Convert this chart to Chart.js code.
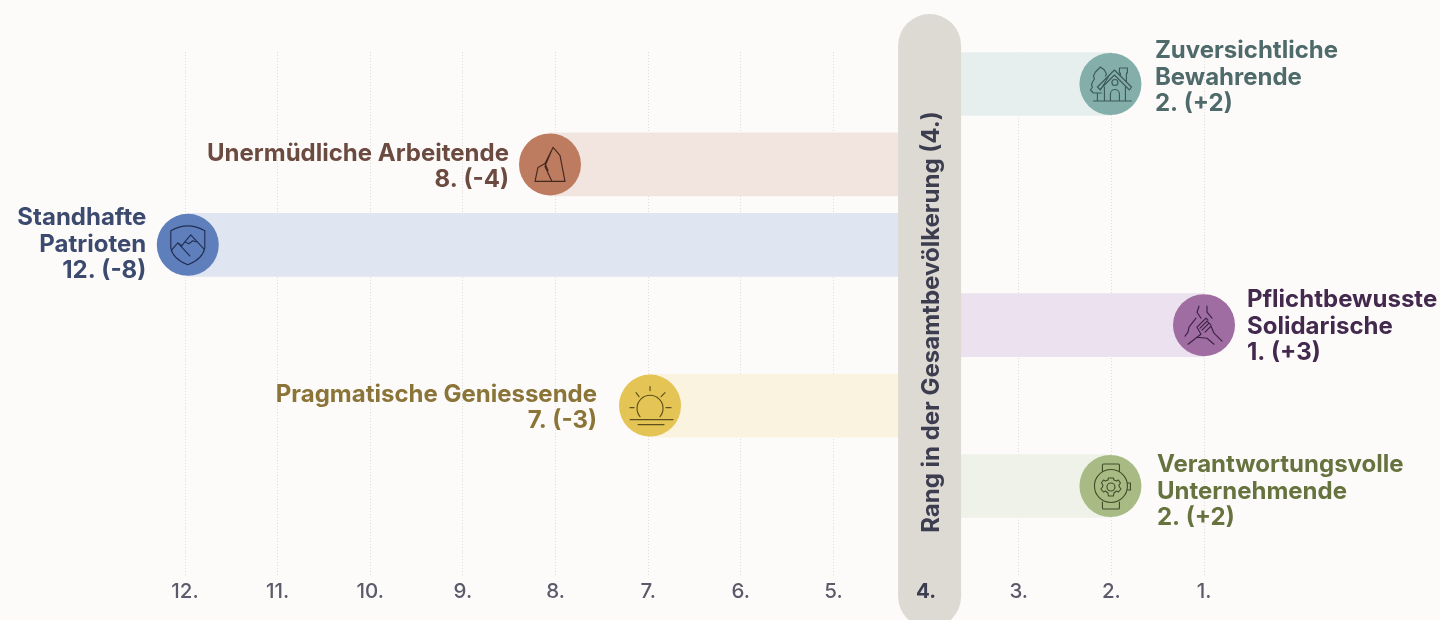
<!DOCTYPE html>
<html lang="de">
<head>
<meta charset="utf-8">
<title>Rang in der Gesamtbevölkerung</title>
<script src="https://cdn.jsdelivr.net/npm/chart.js@4"></script>
<style>
  html, body { margin: 0; padding: 0; background: #fdfbf9; overflow: hidden; }
  canvas { display: block; }
</style>
</head>
<body>
<canvas id="chart" width="1440" height="620"></canvas>
<script>
// data, rows top to bottom
const names = [
  ["Zuversichtliche", "Bewahrende"],
  ["Unermüdliche Arbeitende"],
  ["Standhafte", "Patrioten"],
  ["Pflichtbewusste", "Solidarische"],
  ["Pragmatische Geniessende"],
  ["Verantwortungsvolle", "Unternehmende"]
];
const rankLabels = ["2. (+2)", "8. (-4)", "12. (-8)", "1. (+3)", "7. (-3)", "2. (+2)"];
const rowIndex = [0, 1, 2, 3, 4, 5];
const ranks = [2.01, 8.06, 11.97, 1, 6.98, 2.01]; // where the circles sit on the axis
const baseRank = 4;
const tickRanks = [12, 11, 10, 9, 8, 7, 6, 5, 4, 3, 2, 1];
const bandTitle = "Rang in der Gesamtbevölkerung (4.)";

// styling
const barColors = ["#e6efee", "#f2e5e0", "#dfe5f1", "#ece1ee", "#f9f3df", "#eef2e9"];
const circleColors = ["#83aeaa", "#bd7b60", "#5f7fbc", "#a06da3", "#e3c455", "#a9bb85"];
const textColors = ["#4f6a6a", "#6b4a40", "#3b4a6e", "#43294e", "#8a7437", "#66733f"];
const iconColors = ["#3f5a5a", "#45291f", "#222f55", "#3c2244", "#5f4f1c", "#434f2a"];
const labelDx = [44.5, -41, -41.5, 43, -53, 46.5];
const labelFirstDy = [-33, -11, -27, -25, -11, -21];
const labelFont = '700 24px Inter, sans-serif';

// icons as svg paths around the circle centre
const icons = [
  // house and tree
  "M-17,17 H21 M-1,-9 L-10,6 M4,-9 L19,6 M4,-9 L-10,5 M4,-14 L-13,3 L-10,6 M4,-14 L21,3 L19,6 " +
  "M-6,3 V17 M15,3 V17 M0,17 V10 A4.3,4.3 0 0 1 9,10 V17 M7.5,-1.5 A3,3 0 1 0 1.5,-1.5 A3,3 0 1 0 7.5,-1.5 " +
  "M10,-8 V-11 H9 V-16 H17 V-11 H16 V-3 M-9,9 H-17 L-20,6 L-18,3 L-19,1 L-18,-2 L-16,-5 L-17,-8 L-15,-12 L-10,-17 L-6,-14 " +
  "L-4,-10 L-5,-8 M-13,9 V17",
  // rock
  "M-15,17 H15 L10,-9 L3,-17 L-5,-1 L-12,3 L-15,17 M3,-17 L-5,2 L2,17 M-5,-1 L-2,6",
  // shield with mountains
  "M-17,-14 Q0,-24 17,-14 V3 Q15,14 0,20 Q-15,14 -17,3 Z M-16,5 L-10,-2 L-6,1 L-3,-3 L3,-10 L16,4 " +
  "M-10,-2 L2,11 M-3,-3 L1,-1 L5,-4 L8,-3",
  // hands
  "M-5,-19 L-7,-13 L-3,-7 M3,-19 L3,-13 L8,-7 M-8,-7 L-15,2 L-16,7 L-19,11 M-16,19 L-7,12 " +
  "M-7,2 L2,-7 L4,-5 M-4,3 L3,-4 L5,-2 M-2,5 L5,-2 L7,0 M1,7 L7,1 M-7,2 L-3,9 L-7,12 L3,13 L10,19 M7,1 L10,8 L18,16",
  // sun
  "M-10,11 A13,13 0 1 1 10,11 M-20,14 H23 M-12,19 H14 M0,-19 V-15 M-14,-13 L-11,-9 M15,-13 L11,-9 M-20,2 H-16 M16,2 H21",
  // watch with gear
  "M-8,-14 V-21 Q-8,-22 -7,-22 H8 Q9,-22 9,-21 V-14 M-8,16 V22 Q-8,23 -7,23 H8 Q9,23 9,22 V16 " +
  "M17,0 A16.5,16.5 0 1 1 -16,0 A16.5,16.5 0 1 1 17,0 M17,-3 L20,-3 V4 H17 M4.5,1 A4,4 0 1 1 -3.5,1 A4,4 0 1 1 4.5,1 " +
  "M-2,-8 L3,-8 L3.5,-6 L6,-5 L8,-6 L10,-3 L8.5,-1 L9,1 L10.5,3 L8,6 L6,5 L3.5,7 L3,10 L-2,10 L-2.5,7 L-5,5 L-7,6 L-9.5,3 L-8,1 L-7.5,-1 L-9,-3 L-7,-6 L-5,-5 L-2.5,-6 Z"
];

const bandPlugin = {
  id: "band",
  afterDatasetsDraw(chart) {
    const ctx = chart.ctx;
    const x = chart.scales.x.getPixelForValue(baseRank) + 3.5;

    // icons on top of the circles
    const points = chart.getDatasetMeta(1).data;
    points.forEach(function (pt, i) {
      ctx.save();
      ctx.translate(pt.x, pt.y);
      ctx.strokeStyle = iconColors[i];
      ctx.lineWidth = 1.15;
      ctx.lineJoin = "round";
      ctx.lineCap = "round";
      ctx.stroke(new Path2D(icons[i]));
      ctx.restore();

      // group name and rank next to the circle
      ctx.save();
      ctx.font = labelFont;
      ctx.fillStyle = textColors[i];
      ctx.textAlign = labelDx[i] < 0 ? "right" : "left";
      ctx.textBaseline = "middle";
      const lines = names[i].concat(rankLabels[i]);
      lines.forEach(function (line, n) {
        ctx.fillText(line, pt.x + labelDx[i], pt.y + labelFirstDy[i] + n * 26.5);
      });
      ctx.restore();
    });

    // grey band for the overall population
    ctx.save();
    ctx.fillStyle = "#dcdad3";
    ctx.beginPath();
    ctx.roundRect(x - 31.5, 14, 63, 614, 31.5);
    ctx.fill();
    ctx.translate(x + 2, 322);
    ctx.rotate(-Math.PI / 2);
    ctx.font = labelFont;
    ctx.fillStyle = "#3d3d50";
    ctx.textAlign = "center";
    ctx.textBaseline = "middle";
    ctx.fillText(bandTitle, 0, 0);
    ctx.restore();
  }
};

function isBase(c) {
  return c.tick && c.tick.value === baseRank;
}

new Chart(document.getElementById("chart"), {
  type: "bar",
  data: {
    datasets: [
      {
        data: rowIndex.map(function (r, i) { return { x: [baseRank, ranks[i]], y: r }; }),
        backgroundColor: barColors,
        barThickness: 63,
        order: 2
      },
      {
        type: "scatter",
        data: rowIndex.map(function (r, i) { return { x: ranks[i], y: r }; }),
        pointRadius: 31,
        pointBorderWidth: 0,
        pointBackgroundColor: circleColors,
        clip: false,
        order: 1
      }
    ]
  },
  plugins: [bandPlugin],
  options: {
    indexAxis: "y",
    responsive: false,
    animation: false,
    layout: { padding: { left: 185, right: 236, top: 52, bottom: 0 } },
    plugins: { legend: { display: false }, tooltip: { enabled: false } },
    scales: {
      x: {
        type: "linear",
        reverse: true,
        min: 1,
        max: 12,
        afterBuildTicks(scale) {
          scale.ticks = tickRanks.map(function (v) { return { value: v }; });
        },
        afterFit(scale) { scale.height = 45; },
        border: { display: false, dash: [1, 2] },
        grid: { color: "#dedcd9", lineWidth: 1, drawTicks: false },
        ticks: {
          z: 1,
          padding: 5,
          autoSkip: false,
          maxRotation: 0,
          color: function (c) { return isBase(c) ? "#3d3d50" : "#5a5a6a"; },
          font: function (c) {
            return { family: "Inter, sans-serif", size: 20.5, weight: isBase(c) ? "700" : "500" };
          },
          callback: function (v) { return v + "."; }
        }
      },
      y: {
        type: "linear",
        display: false,
        reverse: true,
        offset: false,
        min: -0.398,
        max: 6.107
      }
    }
  }
});
</script>
</body>
</html>
